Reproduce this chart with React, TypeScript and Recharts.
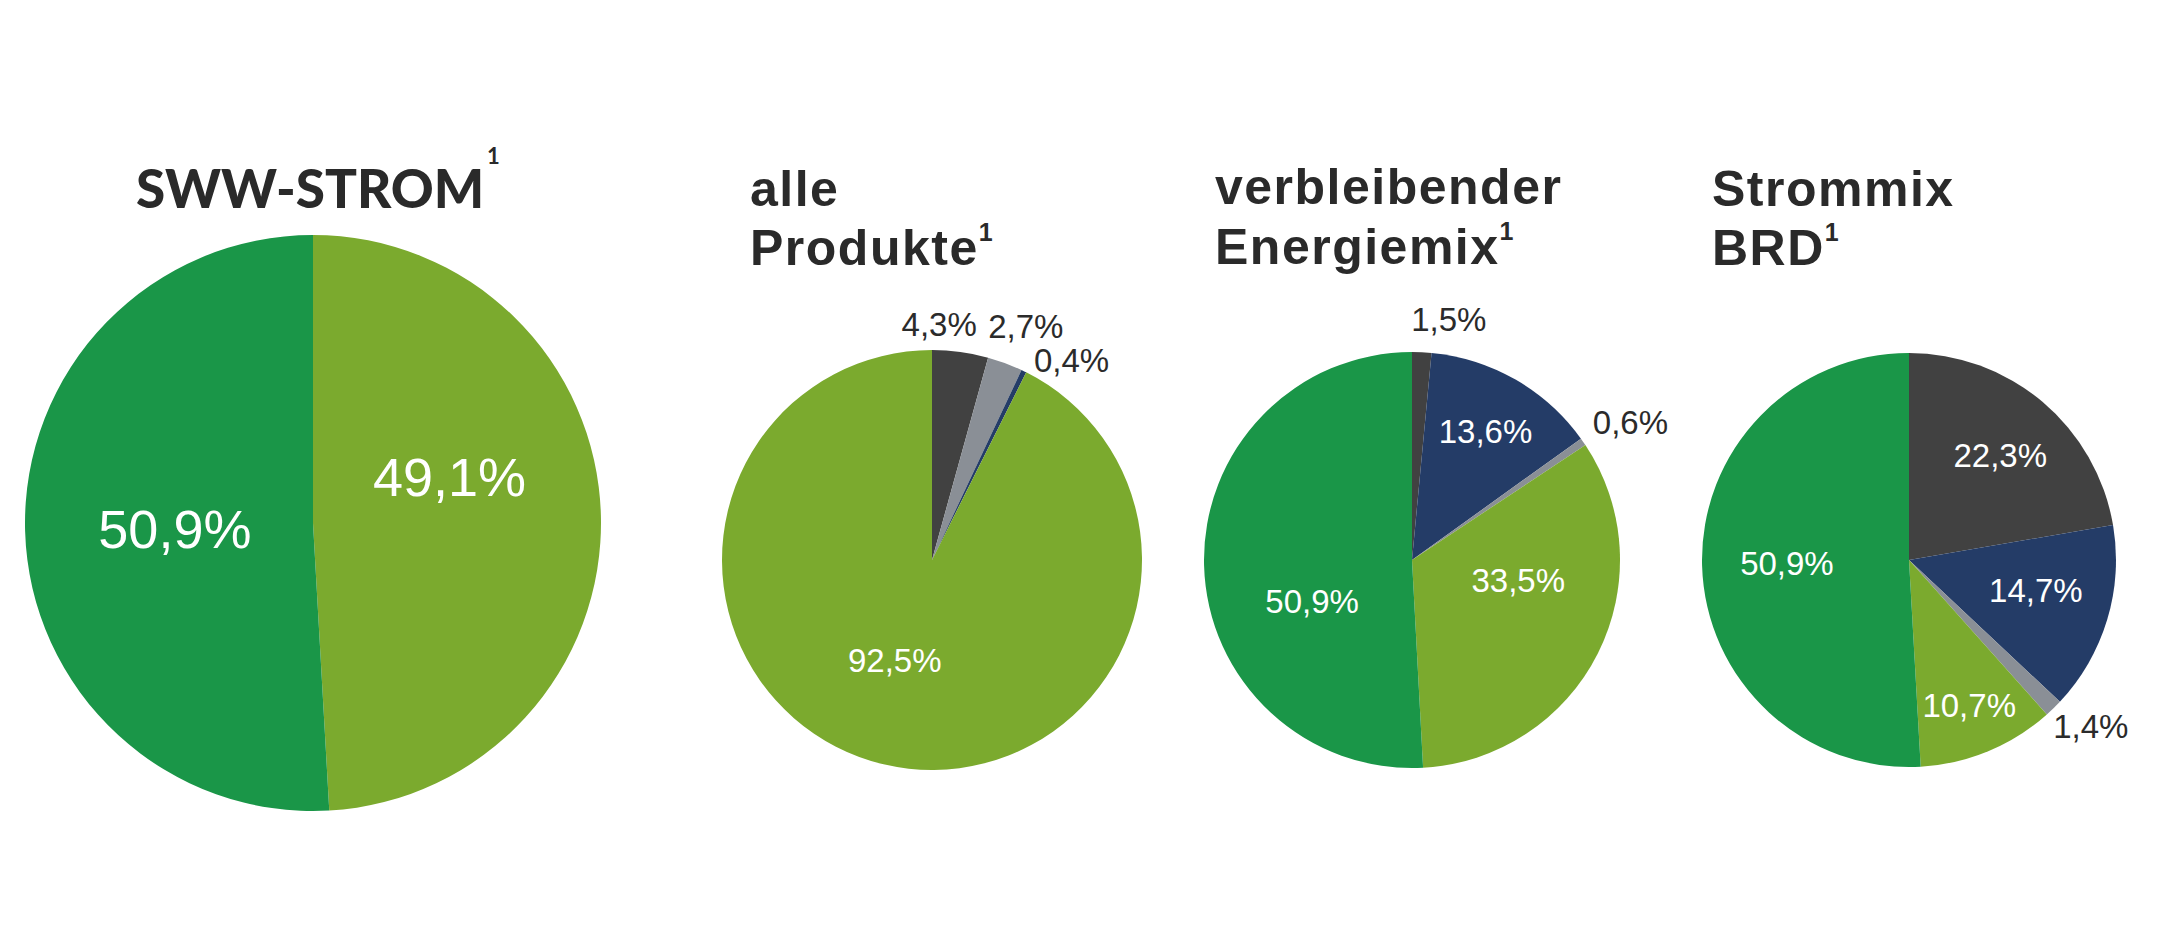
import { PieChart, Pie, Cell } from 'recharts';

// colour per energy source
const sourceColors: Record<string, string> = {
  Fossil: '#414141',
  Kernkraft: '#243c67',
  Sonstige: '#8a8f96',
  Erneuerbar: '#7baa2e',
  EEG: '#1a9648',
};

// SWW-STROM
const swwNames = ['Erneuerbar', 'EEG'];
const swwValues = [49.1, 50.9];

// alle Produkte
const alleNames = ['Fossil', 'Sonstige', 'Kernkraft', 'Erneuerbar'];
const alleValues = [4.3, 2.7, 0.4, 92.5];

// verbleibender Energiemix
const restNames = ['Fossil', 'Kernkraft', 'Sonstige', 'Erneuerbar', 'EEG'];
const restValues = [1.5, 13.6, 0.6, 33.5, 50.9];

// Strommix BRD
const brdNames = ['Fossil', 'Kernkraft', 'Sonstige', 'Erneuerbar', 'EEG'];
const brdValues = [22.3, 14.7, 1.4, 10.7, 50.9];

// label placement: radius factor and angle nudge (deg, clockwise)
const swwLabelSpots = [
  { r: 0.5, shift: -17 },
  { r: 0.48, shift: -1 },
];
const alleLabelSpots = [
  { r: 1.12, shift: -6 },
  { r: 1.2, shift: 1.5 },
  { r: 1.16, shift: 9 },
  { r: 0.51, shift: 7 },
];
const restLabelSpots = [
  { r: 1.17, shift: 6 },
  { r: 0.71, shift: 0 },
  { r: 1.24, shift: 2.5 },
  { r: 0.52, shift: -16 },
  { r: 0.52, shift: -21 },
];
const brdLabelSpots = [
  { r: 0.67, shift: 1 },
  { r: 0.63, shift: -3.4 },
  { r: 1.19, shift: -3.3 },
  { r: 0.76, shift: 0 },
  { r: 0.59, shift: 0 },
];

const toRows = (names: string[], values: number[]) =>
  names.map((name, i) => ({ name, value: values[i] }));

const fmt = (v: number) => v.toFixed(1).replace('.', ',') + '%';

const makeLabel =
  (spots: { r: number; shift: number }[], fontSize: number) =>
  (props: any) => {
    const { cx, cy, midAngle, outerRadius, index, value } = props;
    const spot = spots[index];
    const theta = ((90 - midAngle + spot.shift) * Math.PI) / 180;
    const rad = outerRadius * spot.r;
    const x = cx + rad * Math.sin(theta);
    const y = cy - rad * Math.cos(theta);
    return (
      <text
        x={x}
        y={y}
        textAnchor="middle"
        dominantBaseline="central"
        fill={spot.r > 1 ? '#2b2b2b' : '#ffffff'}
        fontSize={fontSize}
        fontFamily="'Liberation Sans', Arial, sans-serif"
      >
        {fmt(value)}
      </text>
    );
  };

const titleFont = {
  fontFamily: "'Liberation Sans', Arial, sans-serif",
  fontWeight: 700,
  fontSize: 50,
  letterSpacing: 1.5,
  fill: '#2a2a2a',
};

const supFont = { fontSize: 25, letterSpacing: 0 };

const pies = [
  { rows: toRows(swwNames, swwValues), spots: swwLabelSpots, cx: 313, cy: 523, r: 288, fs: 54 },
  { rows: toRows(alleNames, alleValues), spots: alleLabelSpots, cx: 932, cy: 560, r: 210, fs: 33 },
  { rows: toRows(restNames, restValues), spots: restLabelSpots, cx: 1412, cy: 560, r: 208, fs: 33 },
  { rows: toRows(brdNames, brdValues), spots: brdLabelSpots, cx: 1909, cy: 560, r: 207, fs: 33 },
];

const App = () => {
  return (
    <div style={{ position: 'absolute', left: 0, top: 0, width: 2179, height: 933, background: '#ffffff' }}>
      <PieChart width={2179} height={933} margin={{ top: 0, right: 0, bottom: 0, left: 0 }}>
        {pies.map((p, k) => (
          <Pie
            key={k}
            data={p.rows}
            dataKey="value"
            nameKey="name"
            cx={p.cx}
            cy={p.cy}
            outerRadius={p.r}
            startAngle={90}
            endAngle={-270}
            stroke="none"
            labelLine={false}
            label={makeLabel(p.spots, p.fs)}
            isAnimationActive={false}
          >
            {p.rows.map((row) => (
              <Cell key={row.name} fill={sourceColors[row.name]} />
            ))}
          </Pie>
        ))}

        <text
          x={136}
          y={208}
          fontFamily="Lato, 'Open Sans', sans-serif"
          fontWeight={900}
          fontSize={53}
          fill="#2a2a2a"
        >
          SWW-STROM
        </text>
        <text x={487} y={164} fontFamily="Lato, sans-serif" fontWeight={700} fontSize={22} fill="#2a2a2a">
          1
        </text>

        <text x={750} y={206} style={titleFont}>alle</text>
        <text x={750} y={265} style={titleFont}>
          Produkte<tspan dy={-24} style={supFont}>1</tspan>
        </text>

        <text x={1215} y={204} style={titleFont}>verbleibender</text>
        <text x={1215} y={264} style={titleFont}>
          Energiemix<tspan dy={-24} style={supFont}>1</tspan>
        </text>

        <text x={1712} y={206} style={titleFont}>Strommix</text>
        <text x={1712} y={265} style={titleFont}>
          BRD<tspan dy={-24} style={supFont}>1</tspan>
        </text>
      </PieChart>
    </div>
  );
};

export default App;
